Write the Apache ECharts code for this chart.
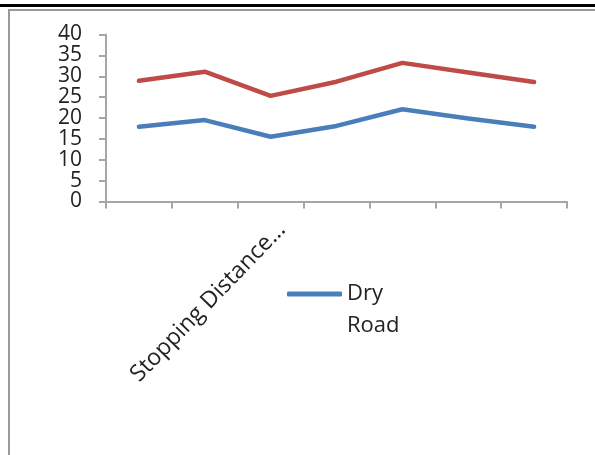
<!DOCTYPE html>
<html>
<head>
<meta charset="utf-8">
<script src="https://cdn.jsdelivr.net/npm/echarts@6/dist/echarts.min.js"></script>
<style>
html,body{margin:0;padding:0;background:#fff;}
#c{width:595px;height:455px;}
</style>
</head>
<body>
<div id="c"></div>
<script>
// ---- data ----
var categories = ['', '', 'Stopping Distance...', '', '', '', ''];
var dryRoad = [17.9, 19.5, 15.5, 18.1, 22.1, 19.9, 17.9];
var wetRoad = [28.9, 31.1, 25.3, 28.7, 33.2, 30.9, 28.6];
var yTicks = { min: 0, max: 40, interval: 5 };
var legendNames = ['Dry Road'];

var chart = echarts.init(document.getElementById('c'), null, { renderer: 'canvas' });
var axisGray = '#A6A6A6';
var font = 'Open Sans';
chart.setOption({
  animation: false,
  backgroundColor: '#ffffff',
  graphic: [
    { type: 'rect', shape: { x: 0, y: 4, width: 595, height: 3 }, style: { fill: '#000' }, silent: true },
    { type: 'rect', shape: { x: 8, y: 9, width: 587, height: 2 }, style: { fill: '#9a9a9a' }, silent: true },
    { type: 'rect', shape: { x: 8, y: 9, width: 2, height: 446 }, style: { fill: '#9a9a9a' }, silent: true }
  ],
  grid: { left: 106, right: 28, top: 34.5, bottom: 253.5, containLabel: false },
  legend: {
    data: legendNames,
    left: 282, top: 241,
    icon: 'roundRect',
    itemWidth: 55, itemHeight: 5,
    itemGap: 5,
    formatter: function (n) { return '\u00a0\n' + n.replace(' ', '\n'); },
    textStyle: { fontFamily: font, fontSize: 22, color: '#222', lineHeight: 32 }
  },
  xAxis: {
    type: 'category',
    data: categories,
    boundaryGap: true,
    axisLine: { lineStyle: { color: axisGray, width: 2 } },
    axisTick: { show: true, length: 7, inside: false, lineStyle: { color: axisGray, width: 2 } },
    axisLabel: {
      interval: 0, rotate: 46, margin: 36,
      fontFamily: font, fontSize: 23, color: '#222',
      padding: [0, -16, 0, 0]
    },
    splitLine: { show: false }
  },
  yAxis: {
    type: 'value',
    min: yTicks.min, max: yTicks.max, interval: yTicks.interval,
    axisLine: { show: true, lineStyle: { color: axisGray, width: 2 } },
    axisTick: { show: true, length: 7, lineStyle: { color: axisGray, width: 2 } },
    axisLabel: { margin: 24, fontFamily: font, fontSize: 21, color: '#222', lineHeight: 18 },
    splitLine: { show: false }
  },
  series: [
    {
      name: 'Dry Road', type: 'line', data: dryRoad,
      showSymbol: false, symbol: 'none',
      lineStyle: { color: '#4A7EBB', width: 4.5, cap: 'round', join: 'round' },
      itemStyle: { color: '#4A7EBB' }
    },
    {
      name: 'Wet Road', type: 'line', data: wetRoad,
      showSymbol: false, symbol: 'none',
      lineStyle: { color: '#BE4B48', width: 4.5, cap: 'round', join: 'round' },
      itemStyle: { color: '#BE4B48' }
    }
  ]
});
</script>
</body>
</html>
